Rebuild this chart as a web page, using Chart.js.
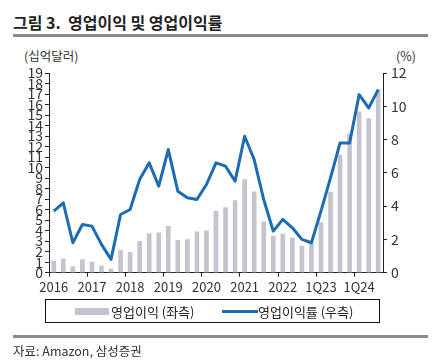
<!DOCTYPE html>
<html>
<head>
<meta charset="utf-8">
<script src="https://cdn.jsdelivr.net/npm/chart.js@4.4.0/dist/chart.umd.min.js"></script>
<style>
body { margin: 0; width: 433px; height: 364px; position: relative; background: #fff; overflow: hidden;
       font-family: "Noto Sans CJK KR", "Noto Sans", sans-serif; color: #222; }
#chart { position: absolute; left: 0; top: 0; }
.txt { position: absolute; white-space: nowrap; }
.rule { position: absolute; left: 13px; width: 415px; height: 3px; background: #8a8a8a; }
#legend { position: absolute; left: 45px; top: 299px; width: 335px; height: 24px; border: 1px solid #111; box-sizing: border-box; }
#legend span { position: absolute; }
</style>
</head>
<body>
<div class="txt" style="left:13px;top:10px;font-size:16px;font-weight:bold;">그림 3.&nbsp; 영업이익 및 영업이익률</div>
<div class="rule" style="top:34px;"></div>
<div class="txt" style="left:24px;top:46px;font-size:12.5px;color:#333;">(십억달러)</div>
<div class="txt" style="left:396px;top:46px;font-size:12.5px;color:#333;">(%)</div>
<canvas id="chart" width="433" height="364"></canvas>
<div id="legend">
  <span style="left:29px;top:8px;width:34px;height:7px;background:#c4c4cf;"></span>
  <span style="left:65px;top:2px;font-size:13px;">영업이익 (좌측)</span>
  <span style="left:176px;top:10px;width:36px;height:3px;background:#1d6cb1;"></span>
  <span style="left:212px;top:2px;font-size:13px;">영업이익률 (우측)</span>
</div>
<div class="rule" style="top:335px;"></div>
<div class="txt" style="left:13px;top:341px;font-size:12.5px;color:#333;">자료: Amazon, 삼성증권</div>

<script>
// 분기별 영업이익(십억달러), 영업이익률(%)
const quarters = ['1Q16','2Q16','3Q16','4Q16','1Q17','2Q17','3Q17','4Q17',
                  '1Q18','2Q18','3Q18','4Q18','1Q19','2Q19','3Q19','4Q19',
                  '1Q20','2Q20','3Q20','4Q20','1Q21','2Q21','3Q21','4Q21',
                  '1Q22','2Q22','3Q22','4Q22','1Q23','2Q23','3Q23','4Q23',
                  '1Q24','2Q24','3Q24'];
const opIncome = [1.07, 1.29, 0.58, 1.26, 1.01, 0.63, 0.35, 2.13,
                  1.93, 2.98, 3.72, 3.79, 4.42, 3.08, 3.16, 3.88,
                  3.99, 5.84, 6.19, 6.87, 8.87, 7.70, 4.85, 3.46,
                  3.67, 3.32, 2.53, 2.74, 4.77, 7.68, 11.19, 13.21,
                  15.31, 14.67, 17.41];
const opMargin = [3.7, 4.2, 1.8, 2.9, 2.8, 1.7, 0.8, 3.5,
                  3.8, 5.6, 6.6, 5.2, 7.4, 4.9, 4.5, 4.4,
                  5.3, 6.6, 6.4, 5.5, 8.2, 6.8, 4.4, 2.5,
                  3.2, 2.7, 2.0, 1.8, 3.7, 5.7, 7.8, 7.8,
                  10.7, 9.9, 11.0];
const xTickLabels = ['2016','2017','2018','2019','2020','2021','2022','1Q23','1Q24'];
const leftTicks = [0,1,2,3,4,5,6,7,8,9,10,11,12,13,14,15,16,17,18,19];
const rightTicks = [0,2,4,6,8,10,12];

const tickFont = { family: '"Noto Sans CJK KR", "Noto Sans", sans-serif', size: 13 };
const axisColor = '#222';

const ctx = document.getElementById('chart');
const chart = new Chart(ctx, {
    type: 'bar',
    data: {
        labels: quarters,
        datasets: [{
            type: 'line',
            label: '영업이익률 (우측)',
            data: opMargin,
            yAxisID: 'y1',
            borderColor: '#1d6cb1',
            borderWidth: 3,
            pointRadius: 0,
            tension: 0,
            borderJoinStyle: 'round',
            order: 0
        }, {
            type: 'bar',
            label: '영업이익 (좌측)',
            data: opIncome,
            yAxisID: 'y',
            backgroundColor: '#c4c4cf',
            barThickness: 4,
            order: 1
        }]
    },
    options: {
        responsive: false,
        animation: false,
        layout: { padding: { top: 73, left: 0, right: 0, bottom: 0 } },
        plugins: { legend: { display: false }, tooltip: { enabled: false } },
        scales: {
            x: {
                offset: true,
                afterFit: function (s) { s.height = 91.3; },
                border: { color: axisColor, width: 1 },
                grid: {
                    offset: true,
                    drawOnChartArea: false,
                    drawTicks: true,
                    tickLength: 4,
                    color: function (c) { return c.index % 4 === 0 ? axisColor : 'rgba(0,0,0,0)'; },
                    tickColor: function (c) { return c.index % 4 === 0 ? axisColor : 'rgba(0,0,0,0)'; }
                },
                ticks: {
                    autoSkip: false,
                    maxRotation: 0,
                    padding: 3,
                    color: '#333',
                    font: tickFont,
                    callback: function (v, i) { return i % 4 === 0 ? xTickLabels[i / 4] : ''; }
                }
            },
            y: {
                position: 'left',
                min: 0,
                max: 19,
                afterFit: function (s) { s.width = 49; },
                afterBuildTicks: function (s) { s.ticks = leftTicks.map(function (v) { return { value: v }; }); },
                border: { color: axisColor, width: 1 },
                grid: { drawOnChartArea: false, tickLength: 4, color: axisColor },
                ticks: { autoSkip: false, padding: 2, color: '#333', font: { family: tickFont.family, size: 14 } }
            },
            y1: {
                position: 'right',
                min: 0,
                max: 12,
                afterFit: function (s) { s.width = 50; },
                afterBuildTicks: function (s) { s.ticks = rightTicks.map(function (v) { return { value: v }; }); },
                border: { color: axisColor, width: 1 },
                grid: { drawOnChartArea: false, tickLength: 4, color: axisColor },
                ticks: { autoSkip: false, padding: 4, color: '#333', font: { family: tickFont.family, size: 14 } }
            }
        }
    }
});
</script>
</body>
</html>
